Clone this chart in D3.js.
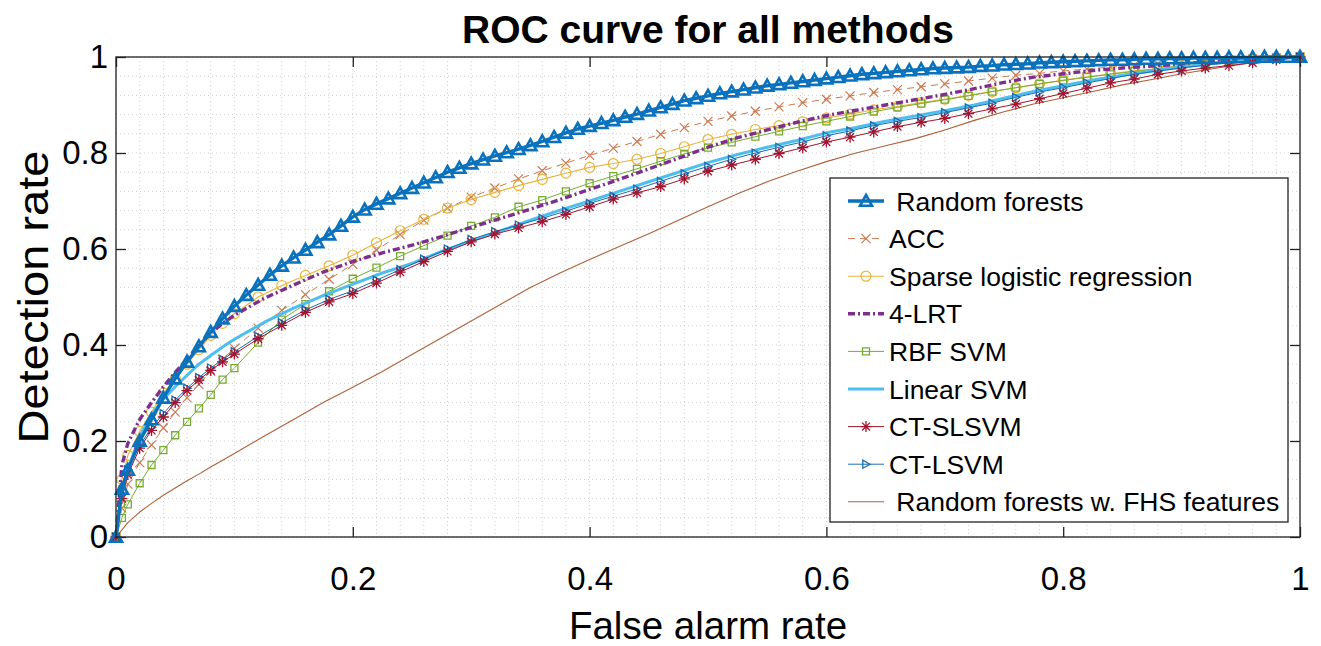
<!DOCTYPE html>
<html>
<head>
<meta charset="utf-8">
<script src="https://cdn.jsdelivr.net/npm/d3@7"></script>
<style>
  html, body { margin: 0; padding: 0; background: #fff; }
  svg { display: block; }
  text { font-family: "Liberation Sans", Arial, sans-serif; fill: #000; }
</style>
</head>
<body>
<svg id="chart" width="1321" height="646"></svg>
<script>
// ---------- data ----------
// false-alarm-rate grid for the curves drawn without markers
const fpr = [0, 0.005, 0.01, 0.02, 0.03, 0.04, 0.05, 0.06, 0.07, 0.08, 0.09, 0.10,
  0.125, 0.15, 0.175, 0.2, 0.225, 0.25, 0.275, 0.3, 0.325, 0.35, 0.375, 0.4,
  0.425, 0.45, 0.475, 0.5, 0.525, 0.55, 0.575, 0.6, 0.625, 0.65, 0.675, 0.7,
  0.725, 0.75, 0.775, 0.8, 0.825, 0.85, 0.875, 0.9, 0.925, 0.95, 0.975, 1.0];

// false-alarm-rate grid for the marked curves
const fprMarked = [0, 0.005, 0.01, 0.02, 0.03, 0.04, 0.05, 0.06, 0.07, 0.08, 0.09, 0.10,
  0.12, 0.14, 0.16, 0.18, 0.20, 0.22, 0.24, 0.26, 0.28, 0.30, 0.32, 0.34, 0.36, 0.38,
  0.40, 0.42, 0.44, 0.46, 0.48, 0.50, 0.52, 0.54, 0.56, 0.58, 0.60, 0.62, 0.64, 0.66,
  0.68, 0.70, 0.72, 0.74, 0.76, 0.78, 0.80, 0.82, 0.84, 0.86, 0.88, 0.90, 0.92, 0.94,
  0.96, 0.98, 1.0];

// finest grid for the Random forests curve (dense triangle markers)
const fprRandomForests = [0, 0.005, 0.01, 0.02, 0.03, 0.04, 0.05, 0.06, 0.07, 0.08, 0.09,
  0.10, 0.11, 0.12, 0.13, 0.14, 0.15, 0.16, 0.17, 0.18, 0.19,
  0.20, 0.21, 0.22, 0.23, 0.24, 0.25, 0.26, 0.27, 0.28, 0.29,
  0.30, 0.31, 0.32, 0.33, 0.34, 0.35, 0.36, 0.37, 0.38, 0.39,
  0.40, 0.41, 0.42, 0.43, 0.44, 0.45, 0.46, 0.47, 0.48, 0.49,
  0.50, 0.51, 0.52, 0.53, 0.54, 0.55, 0.56, 0.57, 0.58, 0.59,
  0.60, 0.61, 0.62, 0.63, 0.64, 0.65, 0.66, 0.67, 0.68, 0.69,
  0.70, 0.71, 0.72, 0.73, 0.74, 0.75, 0.76, 0.77, 0.78, 0.79,
  0.80, 0.81, 0.82, 0.83, 0.84, 0.85, 0.86, 0.87, 0.88, 0.89,
  0.90, 0.91, 0.92, 0.93, 0.94, 0.95, 0.96, 0.97, 0.98, 0.99, 1.0];

const tprRandomForests = [0, 0.10, 0.14, 0.20, 0.245, 0.29, 0.33, 0.365, 0.397, 0.427, 0.455,
  0.481, 0.504, 0.525, 0.546, 0.565, 0.582, 0.598, 0.614, 0.630, 0.648,
  0.667, 0.682, 0.694, 0.705, 0.716, 0.727, 0.738, 0.749, 0.760, 0.769,
  0.778, 0.786, 0.794, 0.801, 0.808, 0.816, 0.824, 0.833, 0.842, 0.850,
  0.856, 0.862, 0.868, 0.875, 0.881, 0.888, 0.895, 0.902, 0.909, 0.914,
  0.919, 0.924, 0.928, 0.932, 0.936, 0.940, 0.943, 0.946, 0.949, 0.952,
  0.955, 0.958, 0.961, 0.964, 0.966, 0.968, 0.970, 0.972, 0.974, 0.976,
  0.977, 0.978, 0.979, 0.981, 0.982, 0.984, 0.985, 0.986, 0.988, 0.989,
  0.990, 0.991, 0.992, 0.993, 0.994, 0.994, 0.995, 0.996, 0.996, 0.997,
  0.997, 0.998, 0.998, 0.998, 0.999, 0.999, 0.999, 1.0, 1.0, 1.0, 1.0];

const tprACC = [0, 0.06, 0.11, 0.155, 0.192, 0.227, 0.26, 0.29, 0.318, 0.345, 0.37, 0.393,
  0.435, 0.472, 0.505, 0.537, 0.568, 0.598, 0.630, 0.660, 0.685, 0.708, 0.727, 0.746, 0.763, 0.779,
  0.795, 0.810, 0.824, 0.839, 0.853, 0.866, 0.877, 0.887, 0.896, 0.905, 0.912, 0.919, 0.926, 0.932,
  0.938, 0.944, 0.950, 0.956, 0.962, 0.966, 0.971, 0.975, 0.979, 0.983, 0.986, 0.989, 0.991, 0.994,
  0.996, 0.998, 1.0];

const tprSparseLR = [0, 0.12, 0.17, 0.22, 0.26, 0.30, 0.33, 0.36, 0.39, 0.42, 0.445, 0.465,
  0.50, 0.524, 0.545, 0.565, 0.587, 0.613, 0.638, 0.662, 0.685, 0.703, 0.718, 0.732, 0.745, 0.758,
  0.77, 0.778, 0.787, 0.799, 0.813, 0.828, 0.839, 0.849, 0.857, 0.865, 0.873, 0.881, 0.890, 0.897,
  0.905, 0.912, 0.920, 0.928, 0.936, 0.944, 0.952, 0.958, 0.965, 0.971, 0.976, 0.982, 0.987, 0.991,
  0.995, 0.998, 1.0];

const tpr4LRT = [0, 0.15, 0.195, 0.245, 0.28, 0.313, 0.343, 0.37, 0.398, 0.425, 0.445, 0.462,
  0.497, 0.525, 0.552, 0.574, 0.592, 0.608, 0.626, 0.645, 0.664, 0.683, 0.703, 0.724,
  0.745, 0.767, 0.789, 0.812, 0.832, 0.848, 0.864, 0.878, 0.889, 0.9, 0.911, 0.922,
  0.934, 0.947, 0.958, 0.965, 0.972, 0.977, 0.981, 0.985, 0.99, 0.994, 0.997, 1.0];

const tprRBFSVM = [0, 0.04, 0.068, 0.112, 0.15, 0.181, 0.212, 0.24, 0.268, 0.296, 0.328, 0.352,
  0.405, 0.453, 0.485, 0.512, 0.538, 0.561, 0.585, 0.607, 0.628, 0.648, 0.666, 0.688, 0.702, 0.720,
  0.737, 0.752, 0.767, 0.783, 0.798, 0.811, 0.822, 0.834, 0.845, 0.856, 0.866, 0.876, 0.886, 0.895,
  0.903, 0.911, 0.919, 0.928, 0.936, 0.944, 0.951, 0.958, 0.964, 0.970, 0.975, 0.981, 0.986, 0.990,
  0.994, 0.997, 1.0];

const tprLinearSVM = [0, 0.10, 0.14, 0.21, 0.255, 0.287, 0.313, 0.337, 0.36, 0.378, 0.396, 0.412,
  0.447, 0.477, 0.503, 0.527, 0.55, 0.57, 0.595, 0.617, 0.638, 0.66, 0.681, 0.70,
  0.72, 0.74, 0.76, 0.78, 0.797, 0.812, 0.826, 0.842, 0.853, 0.866, 0.877, 0.888,
  0.90, 0.914, 0.928, 0.94, 0.952, 0.962, 0.971, 0.979, 0.986, 0.992, 0.996, 1.0];

const tprCTSLSVM = [0, 0.08, 0.13, 0.185, 0.222, 0.25, 0.28, 0.305, 0.327, 0.347, 0.365, 0.381,
  0.413, 0.441, 0.468, 0.490, 0.507, 0.529, 0.552, 0.574, 0.595, 0.615, 0.631, 0.644, 0.657, 0.672,
  0.688, 0.704, 0.717, 0.730, 0.746, 0.762, 0.775, 0.787, 0.799, 0.811, 0.823, 0.833, 0.844, 0.855,
  0.864, 0.872, 0.882, 0.892, 0.902, 0.913, 0.924, 0.935, 0.946, 0.954, 0.964, 0.971, 0.977, 0.982,
  0.988, 0.994, 1.0];

const tprCTLSVM = [0, 0.09, 0.14, 0.19, 0.228, 0.257, 0.285, 0.31, 0.332, 0.352, 0.37, 0.386,
  0.418, 0.446, 0.473, 0.495, 0.513, 0.535, 0.557, 0.579, 0.600, 0.620, 0.636, 0.650, 0.664, 0.679,
  0.695, 0.710, 0.725, 0.741, 0.757, 0.772, 0.787, 0.800, 0.812, 0.823, 0.836, 0.846, 0.857, 0.866,
  0.874, 0.884, 0.894, 0.904, 0.916, 0.927, 0.936, 0.946, 0.955, 0.964, 0.971, 0.977, 0.983, 0.988,
  0.993, 0.997, 1.0];

const tprRFwFHS = [0, 0.015, 0.03, 0.052, 0.07, 0.087, 0.102, 0.117, 0.131, 0.146, 0.16, 0.174,
  0.21, 0.245, 0.28, 0.312, 0.345, 0.38, 0.415, 0.45, 0.485, 0.52, 0.55, 0.578,
  0.605, 0.632, 0.66, 0.688, 0.715, 0.74, 0.762, 0.782, 0.80, 0.815, 0.83, 0.848,
  0.868, 0.886, 0.902, 0.915, 0.928, 0.942, 0.953, 0.965, 0.975, 0.985, 0.993, 1.0];

const seriesNames = [" Random forests", "ACC", "Sparse logistic regression", "4-LRT",
  "RBF SVM", "Linear SVM", "CT-SLSVM", "CT-LSVM", " Random forests w. FHS features"];

const tickValues = [0, 0.2, 0.4, 0.6, 0.8, 1];
const tickLabels = ["0", "0.2", "0.4", "0.6", "0.8", "1"];

const titleText = "ROC curve for all methods";
const xLabelText = "False alarm rate";
const yLabelText = "Detection rate";

// ---------- styles ----------
const seriesX = [fprRandomForests, fprMarked, fprMarked, fpr, fprMarked, fpr, fprMarked, fprMarked, fpr];
const seriesValues = [tprRandomForests, tprACC, tprSparseLR, tpr4LRT, tprRBFSVM,
  tprLinearSVM, tprCTSLSVM, tprCTLSVM, tprRFwFHS];

const styles = [
  { color: "#0a72bd", width: 3.4, dash: null, marker: "triUp", msize: 12, mwidth: 2.6 },
  { color: "#c97b52", width: 1, dash: "7,5", marker: "x", msize: 9, mwidth: 1.2 },
  { color: "#e8b43a", width: 1.1, dash: null, marker: "circle", msize: 10, mwidth: 1.2 },
  { color: "#7e2f8e", width: 3.4, dash: "7,3,2,3", marker: null },
  { color: "#77ac30", width: 1, dash: null, marker: "square", msize: 7, mwidth: 1.3 },
  { color: "#4dbeee", width: 3, dash: null, marker: null },
  { color: "#a2142f", width: 1, dash: null, marker: "star", msize: 11, mwidth: 1.3 },
  { color: "#1a6fb0", width: 1, dash: null, marker: "triRight", msize: 8, mwidth: 1.3 },
  { color: "#b0603a", width: 1.1, dash: null, marker: null }
];
const drawOrder = [8, 1, 2, 4, 3, 5, 7, 6, 0];

function markerPath(type, s) {
  const h = s / 2;
  switch (type) {
    case "triUp": return `M0,${-h}L${h},${h * 0.8}L${-h},${h * 0.8}Z`;
    case "triRight": return `M${h},0L${-h * 0.8},${-h}L${-h * 0.8},${h}Z`;
    case "x": return `M${-h},${-h}L${h},${h}M${-h},${h}L${h},${-h}`;
    case "circle": return `M${h},0A${h},${h} 0 1,1 ${-h},0A${h},${h} 0 1,1 ${h},0Z`;
    case "square": return `M${-h},${-h}H${h}V${h}H${-h}Z`;
    case "star": {
      const d = h * 0.72;
      return `M0,${-h}V${h}M${-h},0H${h}M${-d},${-d}L${d},${d}M${-d},${d}L${d},${-d}`;
    }
  }
  return "";
}

// ---------- layout ----------
const svg = d3.select("#chart");
const L = 116, R = 1300, T = 57, B = 537;
const x = d3.scaleLinear().domain([0, 1]).range([L, R]);
const y = d3.scaleLinear().domain([0, 1]).range([B, T]);

svg.append("rect").attr("x", 0).attr("y", 0).attr("width", 1321).attr("height", 646).attr("fill", "#fff");

// grid
const grid = svg.append("g");
const xMinor = d3.range(0, 51).map(i => i / 50);
const yMinor = d3.range(0, 26).map(i => i / 25);
grid.selectAll("line.vx").data(xMinor).enter().append("line")
  .attr("x1", d => x(d)).attr("x2", d => x(d)).attr("y1", T).attr("y2", B)
  .attr("stroke", "#cfcfcf").attr("stroke-width", 1).attr("stroke-dasharray", "1,3");
grid.selectAll("line.hy").data(yMinor).enter().append("line")
  .attr("x1", L).attr("x2", R).attr("y1", d => y(d)).attr("y2", d => y(d))
  .attr("stroke", "#cfcfcf").attr("stroke-width", 1).attr("stroke-dasharray", "1,3");

// axes (ticks inward)
const xAxis = d3.axisBottom(x).tickValues(tickValues).tickFormat((d, i) => tickLabels[i]).tickSize(-10).tickPadding(30);
const yAxis = d3.axisLeft(y).tickValues(tickValues).tickFormat((d, i) => tickLabels[i]).tickSize(-10).tickPadding(8);
const xTop = d3.axisTop(x).tickValues(tickValues).tickFormat("").tickSize(-10);
const yRight = d3.axisRight(y).tickValues(tickValues).tickFormat("").tickSize(-10);

function styleAxis(g) {
  g.select(".domain").remove();
  g.selectAll(".tick line").attr("stroke", "#222").attr("stroke-width", 1.3);
  g.selectAll(".tick text").attr("font-size", 33).attr("fill", "#111")
    .attr("font-family", "'Liberation Sans', Arial, sans-serif");
}
svg.append("g").attr("transform", `translate(0,${B})`).call(xAxis).call(styleAxis);
svg.append("g").attr("transform", `translate(${L},0)`).call(yAxis).call(styleAxis);
svg.append("g").attr("transform", `translate(0,${T})`).call(xTop).call(styleAxis);
svg.append("g").attr("transform", `translate(${R},0)`).call(yRight).call(styleAxis);

// series
const line = d3.line().x(d => x(d[0])).y(d => y(d[1]));
const plot = svg.append("g");
drawOrder.forEach(k => {
  const st = styles[k];
  const xs = seriesX[k];
  const pts = xs.map((f, i) => [f, seriesValues[k][i]]);
  const g = plot.append("g");
  g.append("path").datum(pts).attr("d", line)
    .attr("fill", "none").attr("stroke", st.color).attr("stroke-width", st.width)
    .attr("stroke-linejoin", "round")
    .attr("stroke-dasharray", st.dash);
  if (st.marker) {
    g.selectAll("path.m").data(pts).enter().append("path")
      .attr("class", "m")
      .attr("transform", d => `translate(${x(d[0])},${y(d[1])})`)
      .attr("d", markerPath(st.marker, st.msize))
      .attr("fill", "none").attr("stroke", st.color).attr("stroke-width", st.mwidth);
  }
});

// box
svg.append("rect").attr("x", L).attr("y", T).attr("width", R - L).attr("height", B - T)
  .attr("fill", "none").attr("stroke", "#222").attr("stroke-width", 1.3);

// title and labels
svg.append("text").attr("x", 708).attr("y", 43).attr("text-anchor", "middle")
  .attr("font-size", 39).attr("font-weight", "bold").text(titleText);
svg.append("text").attr("x", 708).attr("y", 639).attr("text-anchor", "middle")
  .attr("font-size", 38.5).attr("fill", "#111").text(xLabelText);
svg.append("text").attr("transform", "translate(48,297) rotate(-90) scale(1.12,1)").attr("text-anchor", "middle")
  .attr("font-size", 42).attr("fill", "#111").text(yLabelText);

// legend
const lg = svg.append("g");
lg.append("rect").attr("x", 830).attr("y", 178).attr("width", 458).attr("height", 344)
  .attr("fill", "#fff").attr("stroke", "#222").attr("stroke-width", 1.3);
seriesNames.forEach((name, i) => {
  const st = styles[i];
  const cy = 201 + i * 37.6;
  lg.append("line").attr("x1", 848).attr("x2", 884).attr("y1", cy).attr("y2", cy)
    .attr("stroke", st.color).attr("stroke-width", st.width).attr("stroke-dasharray", st.dash);
  if (st.marker) {
    lg.append("path").attr("transform", `translate(866,${cy})`).attr("d", markerPath(st.marker, st.msize))
      .attr("fill", "none").attr("stroke", st.color).attr("stroke-width", st.mwidth);
  }
  lg.append("text").attr("x", 889).attr("y", cy).attr("dy", "0.36em")
    .attr("font-size", 26.5).style("white-space", "pre").text(name);
});
</script>
</body>
</html>
